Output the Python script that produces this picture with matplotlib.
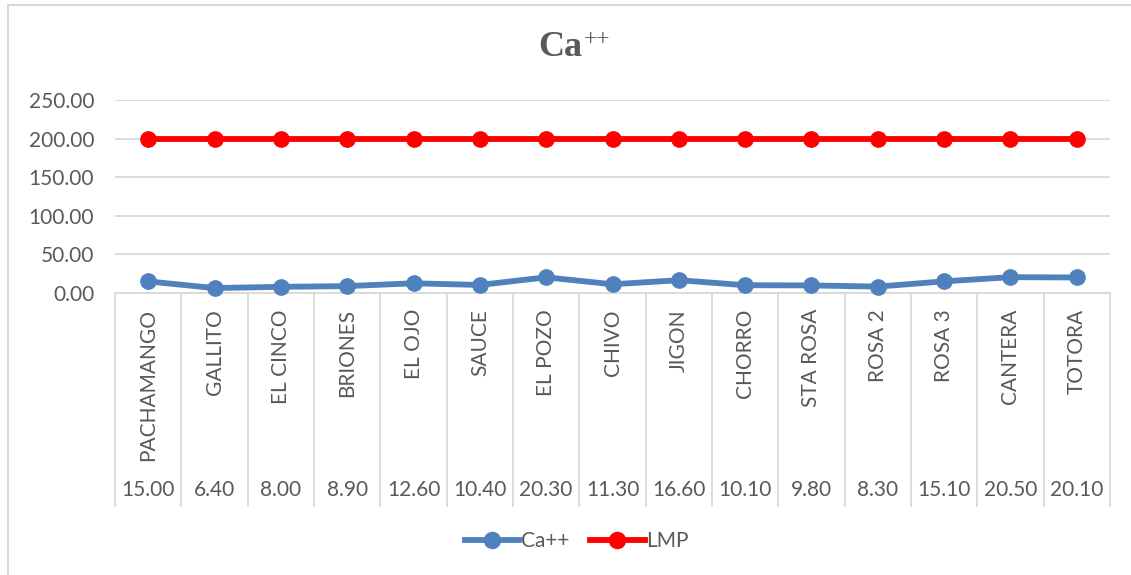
import matplotlib.pyplot as plt
import matplotlib.transforms as mtransforms
from matplotlib.lines import Line2D

# du lieu
sitios = ['PACHAMANGO', 'GALLITO', 'EL CINCO', 'BRIONES', 'EL OJO', 'SAUCE', 'EL POZO',
          'CHIVO', 'JIGON', 'CHORRO', 'STA ROSA', 'ROSA 2', 'ROSA 3', 'CANTERA', 'TOTORA']
ca = [15.00, 6.40, 8.00, 8.90, 12.60, 10.40, 20.30, 11.30, 16.60, 10.10, 9.80, 8.30, 15.10, 20.50, 20.10]
lmp = [200, 200, 200, 200, 200, 200, 200, 200, 200, 200, 200, 200, 200, 200, 200]
yticks = [0, 50, 100, 150, 200, 250]

W, H = 1131, 575
txt = '#595959'
grid = '#D9D9D9'
azul = '#4F81BD'
rojo = '#FF0000'
fuente = 'Lato'
fs = 15

fig = plt.figure(figsize=(W / 100, H / 100), dpi=100)

# marco exterior (solo se ve arriba e izquierda)
fig.add_artist(Line2D([7.5 / W, 7.5 / W], [0, 1 - 4.5 / H], color=grid, lw=1.5))
fig.add_artist(Line2D([7.5 / W, 1], [1 - 4.5 / H, 1 - 4.5 / H], color=grid, lw=1.5))

x0, x1 = 115, 1110
y_top, y_bot = 100, 293
ax = fig.add_axes([x0 / W, 1 - y_bot / H, (x1 - x0) / W, (y_bot - y_top) / H])

x = list(range(len(sitios)))
ax.plot(x, ca, color=azul, lw=4.2, marker='o', ms=11, label='Ca++', zorder=3, clip_on=False)
ax.plot(x, lmp, color=rojo, lw=4.2, marker='o', ms=11, label='LMP', zorder=3, clip_on=False)

ax.set_xlim(-0.5, len(sitios) - 0.5)
ax.set_ylim(0, 250)
ax.set_yticks(yticks)
ax.set_yticklabels([f'{v:.2f}' for v in yticks], fontsize=fs, color=txt, family=fuente)
ax.tick_params(axis='y', length=0, pad=15)
ax.set_xticks([])
for s in ['top', 'right', 'left']:
    ax.spines[s].set_visible(False)
ax.spines['bottom'].set_color(grid)
ax.spines['bottom'].set_linewidth(1.3)
ax.grid(axis='y', color=grid, lw=1.3)
ax.set_axisbelow(True)

# tabla de datos
trans = mtransforms.blended_transform_factory(ax.transData, ax.transAxes)
h = y_bot - y_top
fondo = -(506 - y_bot) / h
for i in range(len(sitios) + 1):
    ax.plot([i - 0.5, i - 0.5], [0, fondo], transform=trans, color=grid, lw=1.3, clip_on=False)
for i, (s, v) in enumerate(zip(sitios, ca)):
    ax.text(i, -(309 - y_bot) / h, s, transform=trans, rotation=90, ha='center', va='top',
            fontsize=fs, color=txt, family=fuente)
    ax.text(i, -(490 - y_bot) / h, f'{v:.2f}', transform=trans, ha='center', va='center',
            fontsize=fs, color=txt, family=fuente)

# titulo
fig.text(560 / W, 1 - 48 / H, 'Ca', ha='center', va='center', fontsize=26, fontweight='bold',
         family='Liberation Serif', color=txt)
fig.text(584 / W, 1 - 40 / H, '++', ha='left', va='center', fontsize=17,
         family='Liberation Serif', color=txt)

leg = fig.legend(loc='center', bbox_to_anchor=(577 / W, 1 - 541 / H), ncol=2, frameon=False,
                 prop={'family': fuente, 'size': fs}, handlelength=2.6, handletextpad=0.1,
                 columnspacing=1.0, markerscale=1.05)
for t in leg.get_texts():
    t.set_color(txt)

fig.savefig('out.png', dpi=100)
